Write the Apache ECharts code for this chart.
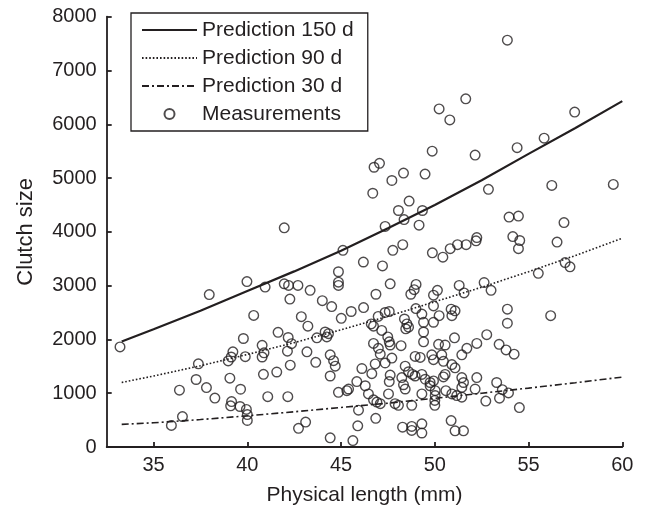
<!DOCTYPE html>
<html>
<head>
<meta charset="utf-8">
<script src="https://cdn.jsdelivr.net/npm/echarts@6/dist/echarts.min.js"></script>
<style>html,body{margin:0;padding:0;background:#fff;}#c{width:646px;height:511px;}</style>
</head>
<body>
<div id="c"></div>
<script>
var xTicks = [35, 40, 45, 50, 55, 60];
var yTicks = [0, 1000, 2000, 3000, 4000, 5000, 6000, 7000, 8000];

var predLength = [33.3, 35, 37.5, 40, 42.5, 45, 47.5, 50, 52.5, 55, 57.5, 60];
var pred150 = [1960, 2190, 2535, 2900, 3265, 3650, 4065, 4500, 4960, 5450, 5930, 6430];
var pred90 = [1200, 1320, 1510, 1720, 1940, 2180, 2430, 2700, 2970, 3260, 3560, 3880];
var pred30 = [420, 450, 510, 580, 655, 735, 815, 905, 1000, 1095, 1195, 1300];

var measLength = [
53.87,51.65,50.23,50.80,57.46,49.86,52.15,54.39,55.83,47.05,46.76,48.33,49.48,
47.71,46.69,52.86,56.24,59.52,48.63,48.06,49.34,48.36,47.35,49.16,45.10,53.96,54.46,56.89,54.16,54.53,54.46,56.52,52.24,52.20,51.67,51.21,50.82,49.87,50.43,48.29,47.76,46.19,47.21,56.95,57.21,55.52,47.62,46.86,49.00,48.90,48.72,50.14,49.93,51.30,51.56,52.63,53.00,
41.97,39.98,40.95,41.97,42.20,42.70,43.35,37.97,42.27,44.00,44.50,44.86,44.86,44.86,
33.21,40.34,42.88,43.23,41.64,39.79,42.18,42.36,40.79,40.89,39.23,39.14,38.98,39.89,40.79,42.14,43.18,43.71,43.65,42.29,37.39,40.86,41.57,37.27,39.07,36.38,37.82,39.64,38.27,41.09,42.16,39.16,39.11,39.61,39.95,40.00,40.00,36.54,35.95,42.73,43.11,
45.01,45.54,46.20,47.35,47.57,46.98,46.61,46.73,48.99,49.31,49.93,50.23,50.87,51.08,50.91,48.38,48.51,48.45,48.60,49.40,49.93,44.15,44.33,44.24,47.17,47.49,47.57,46.73,46.99,47.09,47.62,48.20,49.40,49.40,50.20,50.55,51.05,51.71,51.44,48.95,49.22,49.84,49.93,50.37,50.46,50.91,47.71,47.35,46.82,44.42,44.60,44.69,44.42,46.11,46.64,47.62,47.57,48.42,48.60,48.81,48.95,48.24,49.31,49.49,49.75,49.93,50.55,50.46,51.08,51.44,51.53,51.44,45.84,46.29,44.86,45.31,45.40,46.46,46.73,46.91,47.09,47.53,48.33,48.42,49.31,49.75,50.02,50.02,50.00,50.00,50.59,50.91,51.17,51.44,47.88,48.06,48.77,45.93,46.85,45.89,44.42,45.63,48.28,48.77,48.77,49.31,49.31,50.87,51.08,51.53,
53.87,53.87,56.18,52.77,52.24,53.43,53.80,54.23,52.24,53.30,52.15,53.60,53.93,52.72,53.45,54.51
];
var measClutch = [
7564,6474,6286,6081,6226,5500,5427,5565,5741,5274,5201,5093,5075,
4955,4718,4791,4864,4882,4573,4397,4397,4228,4101,4124,3657,4275,4293,4173,3912,3839,3688,3810,3894,3834,3761,3761,3688,3610,3530,3761,3657,3439,3367,3428,3349,3228,3034,2840,3022,2925,2840,2913,2822,3004,2865,3058,2913,
4075,3076,2974,3034,3004,3004,2913,2834,2750,2720,2610,3258,3065,3004,
1860,2447,2423,2247,2132,2017,2036,1921,1890,1751,1769,1673,1600,1679,1673,1782,1769,2030,1575,1521,1546,1352,1394,1255,1279,1056,1104,1074,910,935,935,844,765,753,699,602,493,566,402,348,463,
2392,2519,2592,2501,2519,2428,2289,2247,2574,2471,2622,2441,2562,2531,2441,2380,2289,2198,2228,2319,2319,2138,2107,2047,2168,2047,1956,1926,1835,1726,1896,1883,2138,1956,1908,1896,2029,1835,1714,1684,1665,1714,1623,1714,1593,1532,1653,1562,1544,1714,1605,1502,1320,1459,1363,1338,1217,1502,1399,1350,1320,1290,1350,1260,1199,1229,1350,1302,1472,1290,1199,1108,1217,1139,1017,1048,1078,987,878,836,805,987,1157,1078,987,1139,1048,957,866,775,1048,987,957,927,805,775,775,684,533,394,170,120,369,382,309,430,260,491,300,300,
2562,2301,2441,2089,1926,1908,1805,1726,1290,1199,1078,1066,1005,854,908,733
];

function pairs(xs, ys) { return xs.map(function (x, i) { return [x, ys[i]]; }); }

var ink = '#231f20';
var clear = 'rgba(0,0,0,0)';
var font = 'Liberation Sans, Arial, Helvetica, sans-serif';
var chart = echarts.init(document.getElementById('c'), null, {renderer: 'canvas'});

function predSeries(name, ys, width, type) {
  return {
    name: name, type: 'line', symbol: 'circle', showSymbol: false, symbolSize: 0, smooth: false,
    data: pairs(predLength, ys),
    lineStyle: {color: ink, width: width, type: type},
    itemStyle: {color: clear, borderColor: clear, borderWidth: 0},
    emphasis: {disabled: true}, z: 3
  };
}

chart.setOption({
  animation: false,
  backgroundColor: '#fff',
  grid: {left: 106.7, right: 23.7, top: 16.7, bottom: 55},
  legend: {
    orient: 'vertical', left: 131, top: 13,
    backgroundColor: '#fff',
    borderColor: ink, borderWidth: 1.3, borderRadius: 0,
    padding: [6, 14, 6, 10], itemGap: 6,
    itemWidth: 55, itemHeight: 10,
    textStyle: {fontSize: 21, color: ink, fontFamily: font, lineHeight: 22},
    data: ['Prediction 150 d', 'Prediction 90 d', 'Prediction 30 d', 'Measurements']
  },
  xAxis: {
    type: 'value', min: 32.5, max: 60,
    name: 'Physical length (mm)', nameLocation: 'middle', nameGap: 38,
    nameTextStyle: {fontSize: 21, color: ink, fontFamily: font},
    axisLine: {lineStyle: {color: ink, width: 1.8}},
    axisTick: {inside: true, length: 5, lineStyle: {color: ink, width: 1.8}, customValues: xTicks},
    axisLabel: {fontSize: 20, color: ink, fontFamily: font, margin: 8, customValues: xTicks},
    splitLine: {show: false}
  },
  yAxis: {
    type: 'value', min: 0, max: 8000, interval: 1000,
    name: 'Clutch size', nameLocation: 'middle', nameGap: 70, nameRotate: 90,
    nameTextStyle: {fontSize: 22, color: ink, fontFamily: font},
    axisLine: {show: true, lineStyle: {color: ink, width: 1.8}},
    axisTick: {show: true, inside: true, length: 5, lineStyle: {color: ink, width: 1.8}, customValues: yTicks},
    axisLabel: {fontSize: 20, color: ink, fontFamily: font, margin: 10, customValues: yTicks,
                formatter: function (v) { return String(v); }},
    splitLine: {show: false}
  },
  series: [
    predSeries('Prediction 150 d', pred150, 2.2, 'solid'),
    predSeries('Prediction 90 d', pred90, 1.6, [1.6, 2]),
    predSeries('Prediction 30 d', pred30, 1.6, [7, 3, 2, 3]),
    {name: 'Measurements', type: 'scatter', symbol: 'circle', symbolSize: 9.6,
     data: pairs(measLength, measClutch),
     itemStyle: {color: 'rgba(255,255,255,0)', borderColor: ink, borderWidth: 1.4}, z: 2}
  ]
});
</script>
</body>
</html>
